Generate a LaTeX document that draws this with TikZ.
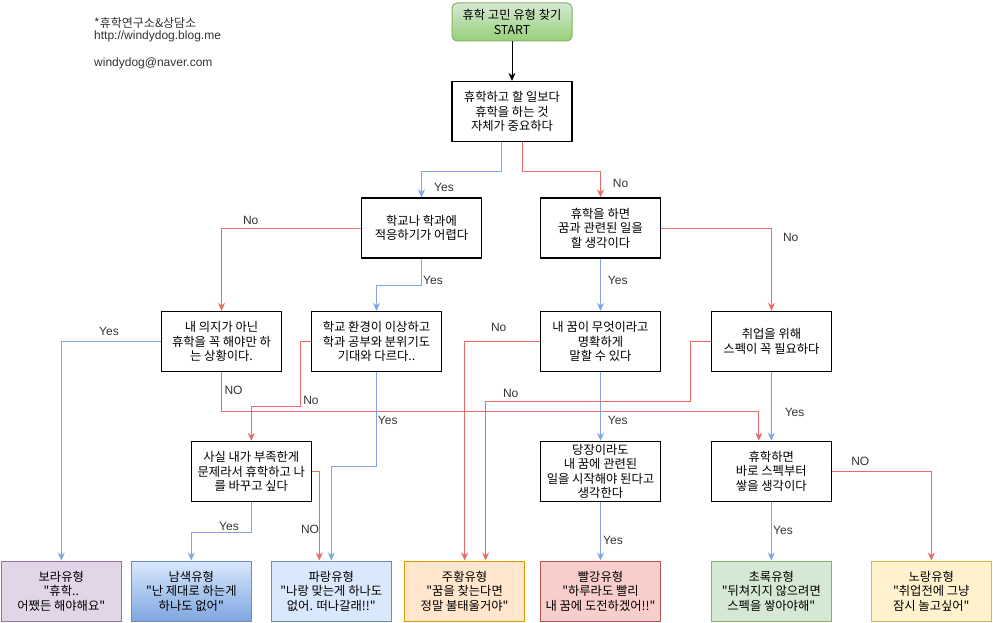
\documentclass[tikz,border=0pt]{standalone}
\usepackage{fontspec}
\setmainfont{Liberation Sans}
\newfontfamily\kr{Noto Sans CJK KR}
\usetikzlibrary{arrows.meta,calc}
\definecolor{eblue}{HTML}{7EA6E0}
\definecolor{ered}{HTML}{EA6B66}
\definecolor{gfillA}{HTML}{D5E8D4}
\definecolor{gfillB}{HTML}{97D077}
\definecolor{gstroke}{HTML}{82B366}
\definecolor{pfill}{HTML}{E1D5E7}
\definecolor{pstroke}{HTML}{9673A6}
\definecolor{bfill}{HTML}{DAE8FC}
\definecolor{bstroke}{HTML}{6C8EBF}
\definecolor{ofill}{HTML}{FFE6CC}
\definecolor{ostroke}{HTML}{D79B00}
\definecolor{rfill}{HTML}{F8CECC}
\definecolor{rstroke}{HTML}{B85450}
\definecolor{yfill}{HTML}{FFF2CC}
\definecolor{ystroke}{HTML}{D6B656}
\definecolor{lbltext}{HTML}{333333}
\tikzset{
  box/.style={draw=black, line width=1.2pt, minimum width=120pt, minimum height=60pt,
    inner sep=1pt, align=center, text=black, font=\kr\fontsize{12.3}{14.5}\selectfont},
  result/.style={box, line width=1pt},
  lbl/.style={inner sep=0pt, text=lbltext, font=\fontsize{12}{13}\selectfont},
  info/.style={inner sep=0pt, anchor=west, text=lbltext, font=\fontsize{12}{13}\selectfont},
  yesline/.style={draw=eblue, line width=1pt, -{Stealth[length=8pt,width=7pt]}},
  noline/.style={draw=ered, line width=1pt, -{Stealth[length=8pt,width=7pt]}},
  startline/.style={draw=black, line width=1pt, -{Stealth[length=8pt,width=7pt]}}
}
\begin{document}
\begin{tikzpicture}[x=1pt,y=-1pt]
\useasboundingbox (0,0) rectangle (993,623);

% info text
\node[info] (i1) at (94,22.7) {\kr *휴학연구소\&상담소};
\node[info] (i2) at (94,36) {http://windydog.blog.me};
\node[info] (i3) at (94,63.3) {windydog@naver.com};

% decision nodes
\node[box, draw=gstroke, line width=1pt, rounded corners=5pt, minimum height=38pt,
      top color=gfillA, bottom color=gfillB] (start) at (512,22) {휴학 고민 유형 찾기\\START};
\node[box] (n1) at (512,111.5) {휴학하고 할 일보다\\휴학을 하는 것\\자체가 중요하다};
\node[box] (nB) at (421.5,228) {학교나 학과에\\적응하기가 어렵다};
\node[box] (nC) at (600.5,228) {휴학을 하면\\꿈과 관련된 일을\\할 생각이다};
\node[box] (nD) at (221.5,341.5) {내 의지가 아닌\\휴학을 꼭 해야만 하\\는 상황이다.};
\node[box, minimum width=130pt] (nE) at (376.5,341.5) {학교 환경이 이상하고\\학과 공부와 분위기도\\기대와 다르다..};
\node[box] (nF) at (600.5,341.5) {내 꿈이 무엇이라고\\명확하게\\말할 수 있다};
\node[box] (nG) at (771.5,341.5) {취업을 위해\\스펙이 꼭 필요하다};
\node[box] (nH) at (251.3,471.5) {사실 내가 부족한게\\문제라서 휴학하고 나\\를 바꾸고 싶다};
\node[box] (nI) at (600.5,471.3) {당장이라도\\내 꿈에 관련된\\일을 시작해야 된다고\\생각한다};
\node[box] (nJ) at (771.3,471.3) {휴학하면\\바로 스펙부터\\쌓을 생각이다};

% result nodes
\node[result, draw=pstroke, fill=pfill] (rP) at (61.3,591) {보라유형\\"휴학..\\어쨌든 해야해요"};
\node[result, draw=bstroke, top color=bfill, bottom color=eblue] (rN) at (191.3,591) {남색유형\\"난 제대로 하는게\\하나도 없어"};
\node[result, draw=bstroke, fill=bfill] (rB) at (331.3,591) {파랑유형\\"나랑 맞는게 하나도\\없어. 떠나갈래!!"};
\node[result, draw=ostroke, fill=ofill] (rO) at (464.6,591) {주황유형\\"꿈을 찾는다면\\정말 불태울거야"};
\node[result, draw=rstroke, fill=rfill] (rR) at (600.5,591) {빨강유형\\"하루라도 빨리\\내 꿈에 도전하겠어!!"};
\node[result, draw=gstroke, fill=gfillA] (rG) at (771.3,591) {초록유형\\"뒤쳐지지 않으려면\\스펙을 쌓아야해"};
\node[result, draw=ystroke, fill=yfill] (rY) at (931.3,591) {노랑유형\\"취업전에 그냥\\잠시 놀고싶어"};

% connectors
\draw[startline] (start.south) -- (n1.north);
\draw[yesline] ([xshift=-11pt]n1.south) -- ++(0,29) -| (nB.north);
\draw[noline] ([xshift=10pt]n1.south) -- ++(0,29) -| (nC.north);
\draw[noline] (nB.west) -| (nD.north);
\draw[yesline] (nB.south) -- ++(0,27) -| (nE.north);
\draw[noline] (nC.east) -| (nG.north);
\draw[yesline] (nC.south) -- (nF.north);
\draw[yesline] (nD.west) -| (rP.north);
\draw[noline] (nD.south) -- ++(0,39.5) -| ([xshift=-12.5pt]nJ.north);
\draw[noline] (nE.west) -- ++(-10,0) -- ++(0,65) -| (nH.north);
\draw[yesline] (nE.south) -- ++(0,94.5) -| (rB.north);
\draw[noline] (nF.west) -| (rO.north);
\draw[yesline] (nF.south) -- (nI.north);
\draw[noline] (nG.west) -- ++(-20,0) -- ++(0,60) -| ([xshift=21pt]rO.north);
\draw[yesline] (nG.south) -- (nJ.north);
\draw[noline] (nH.east) -| ([xshift=-12pt]rB.north);
\draw[yesline] (nH.south) -- ++(0,30) -| (rN.north);
\draw[yesline] (nI.south) -- (rR.north);
\draw[noline] (nJ.east) -| (rY.north);
\draw[yesline] (nJ.south) -- (rG.north);

% labels
\node[lbl] (l1) at (444,187.7) {Yes};
\node[lbl] (l2) at (620.5,183) {No};
\node[lbl] (l3) at (250.7,220.7) {No};
\node[lbl] (l4) at (433,280.3) {Yes};
\node[lbl] (l5) at (790.7,237.7) {No};
\node[lbl] (l6) at (617.7,280.3) {Yes};
\node[lbl] (l7) at (109,331.7) {Yes};
\node[lbl] (l8) at (233.5,390) {NO};
\node[lbl] (l9) at (311,400.7) {No};
\node[lbl] (l10) at (387.7,420) {Yes};
\node[lbl] (l11) at (498.7,327.3) {No};
\node[lbl] (l12) at (617.7,420.3) {Yes};
\node[lbl] (l13) at (510.7,393.5) {No};
\node[lbl] (l14) at (794.6,412.7) {Yes};
\node[lbl] (l15) at (310,529) {NO};
\node[lbl] (l16) at (229,526.7) {Yes};
\node[lbl] (l17) at (613,540.7) {Yes};
\node[lbl] (l18) at (860.3,461.3) {NO};
\node[lbl] (l19) at (783,530.7) {Yes};
\end{tikzpicture}
\end{document}
